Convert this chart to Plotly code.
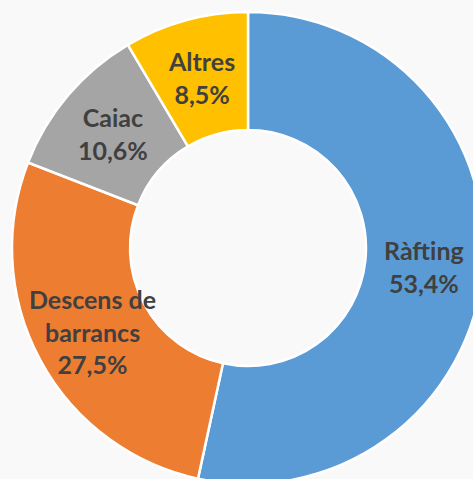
import math

import plotly.graph_objects as go

labels = ["Ràfting", "Descens de barrancs", "Caiac", "Altres"]
values = [53.4, 27.5, 10.6, 8.5]
colors = ["#5B9BD5", "#ED7D31", "#A5A5A5", "#FFC000"]
text_labels = ["Ràfting", "Descens de<br>barrancs", "Caiac", "Altres"]

HOLE = 0.5
TEXT_FONT = dict(family="Lato", size=25, color="#404040", weight="bold")

fig = go.Figure(
    go.Pie(
        labels=labels,
        values=values,
        textinfo="none",
        hole=HOLE,
        sort=False,
        direction="clockwise",
        rotation=0,
        marker=dict(colors=colors, line=dict(color="white", width=2.5)),
        showlegend=False,
    )
)

# Excel-style data labels: centred on the ring at each slice's mid angle,
# allowed to spill over the slice edge (plotly's inside text would shrink them)
total = sum(values)
mid_r = 0.5 * (1 + HOLE) / 2
cum = 0.0
for t, v in zip(text_labels, values):
    theta = 2 * math.pi * (cum + v / 2) / total
    cum += v
    fig.add_annotation(
        x=0.5 + mid_r * math.sin(theta),
        y=0.5 + mid_r * math.cos(theta),
        xref="paper",
        yref="paper",
        xanchor="center",
        yanchor="middle",
        text=f"{t}<br>{v:.1f}%".replace(".", ","),
        showarrow=False,
        font=TEXT_FONT,
        align="center",
    )

fig.update_layout(
    width=496,
    height=496,
    margin=dict(l=12, r=12, t=12, b=12),
    paper_bgcolor="#F9F9F9",
    plot_bgcolor="#F9F9F9",
)

# page chrome: no body margin, crop overflow like the original picture
page_css = (
    "document.body.style.margin='0';"
    "document.body.style.overflow='hidden';"
    "document.body.style.background='#F9F9F9';"
)

fig.write_html("out.html", post_script=page_css, config={"displayModeBar": False})
